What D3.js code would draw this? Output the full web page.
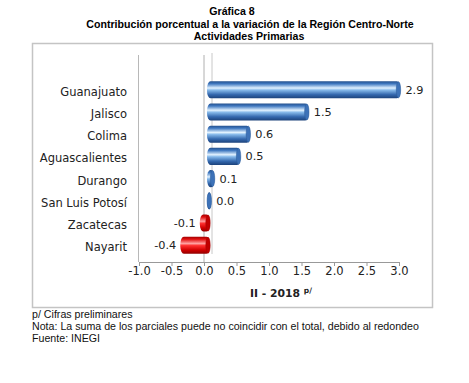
<!DOCTYPE html>
<html><head><meta charset="utf-8">
<script src="https://cdn.jsdelivr.net/npm/d3@7"></script>
<style>body{margin:0;background:#fff}svg{display:block}</style>
</head><body>
<script>
const categories = ["Guanajuato","Jalisco","Colima","Aguascalientes","Durango","San Luis Potosí","Zacatecas","Nayarit"];
const values = [2.93,1.52,0.62,0.47,0.07,0.02,-0.08,-0.38];
const valueLabels = ["2.9","1.5","0.6","0.5","0.1","0.0","-0.1","-0.4"];
const tickValues = [-1.0,-0.5,0.0,0.5,1.0,1.5,2.0,2.5,3.0];
const titleLines = ["Gráfica 8","Contribución porcentual a la variación de la Región Centro-Norte","Actividades Primarias"];
const footnotes = ["p/ Cifras preliminares","Nota: La suma de los parciales puede no coincidir con el total, debido al redondeo","Fuente: INEGI"];

const W=469,H=383;
const svg=d3.select("body").append("svg").attr("width",W).attr("height",H);
const defs=svg.append("defs");
function grad(id,stops){
  const g=defs.append("linearGradient").attr("id",id).attr("x1",0).attr("y1",0).attr("x2",0).attr("y2",1);
  stops.forEach(s=>g.append("stop").attr("offset",s[0]).attr("stop-color",s[1]));
}
grad("gBlue",[[0,"#24508c"],[0.15,"#3f78c0"],[0.4,"#e2f2ff"],[0.52,"#86b9ea"],[0.78,"#3468ae"],[1,"#1c427a"]]);
grad("gRed",[[0,"#a00000"],[0.15,"#e01010"],[0.4,"#ffa0a0"],[0.52,"#ff3030"],[0.78,"#d00000"],[1,"#900000"]]);

const tf="'Liberation Sans',Arial,sans-serif";
const vf="'DejaVu Sans',Verdana,sans-serif";
svg.append("text").attr("x",232).attr("y",15).attr("text-anchor","middle").attr("font-family",tf).attr("font-weight","bold").attr("font-size",10.6).text(titleLines[0]);
svg.append("text").attr("x",250).attr("y",27.5).attr("text-anchor","middle").attr("font-family",tf).attr("font-weight","bold").attr("font-size",10.6).text(titleLines[1]);
svg.append("text").attr("x",249).attr("y",40).attr("text-anchor","middle").attr("font-family",tf).attr("font-weight","bold").attr("font-size",10.6).text(titleLines[2]);

svg.append("rect").attr("x",32.5).attr("y",43.5).attr("width",400).attr("height",264).attr("fill","#fff").attr("stroke","#c4c4c4").attr("stroke-width",1.5);

const x=d3.scaleLinear().domain([-1,3]).range([139,399]);
const y=d3.scaleBand().domain(categories).range([79,256]).paddingInner(0.23).paddingOuter(0.1);

const plotTop=55, plotBottom=262;
svg.append("line").attr("x1",138.5).attr("x2",138.5).attr("y1",plotTop).attr("y2",plotBottom).attr("stroke","#b8b8b8");
svg.append("line").attr("x1",x(0)).attr("x2",x(0)).attr("y1",plotTop).attr("y2",plotBottom).attr("stroke","#b0b0b0");
svg.append("line").attr("x1",x(0)+8).attr("x2",x(0)+8).attr("y1",plotTop-2).attr("y2",plotBottom-8).attr("stroke","#c8c8c8");

const bw=y.bandwidth();
const g=svg.append("g");
categories.forEach((c,i)=>{
  const v=values[i];
  const x0=Math.min(x(0),x(v))+ (v<0?1:3);
  const x1=Math.max(x(0),x(v))+6;
  const yy=y(c);
  const fill=v<0?"url(#gRed)":"url(#gBlue)";
  g.append("rect").attr("x",x0).attr("y",yy).attr("width",Math.max(2,x1-x0)).attr("height",bw)
   .attr("rx",Math.min(3.5,(x1-x0)/2)).attr("ry",bw/2-1).attr("fill",fill);
  const capX = x1-2;
  g.append("ellipse").attr("cx",capX).attr("cy",yy+bw/2).attr("rx",2.2).attr("ry",bw/2-0.5)
   .attr("fill",v<0?"#c00000":"#3d72b8").attr("stroke",v<0?"#a00000":"#2a5a99").attr("stroke-width",0.5);
  const lx = v<0 ? Math.min(x(0),x(v))-3 : x1+5;
  svg.append("text").attr("x",lx).attr("y",yy+bw/2+4).attr("text-anchor",v<0?"end":"start")
    .attr("font-family",vf).attr("font-size",11.3).attr("fill","#222").text(valueLabels[i]);
  svg.append("text").attr("x",127).attr("y",yy+bw/2+6).attr("text-anchor","end")
    .attr("font-family",vf).attr("font-size",11.5).attr("fill","#222").text(c);
});

const ax=svg.append("g").attr("transform",`translate(0,${plotBottom})`)
  .call(d3.axisBottom(x).tickValues(tickValues).tickFormat(d3.format(".1f")).tickSize(4).tickSizeOuter(0));
ax.select(".domain").attr("stroke","#999");
ax.selectAll(".tick line").attr("stroke","#999");
ax.selectAll(".tick text").attr("font-family",vf).attr("font-size",11.5).attr("fill","#222").attr("dy","0.9em").attr("y",3)
  .text(d=>d3.format(".1f")(d).replace("−","-"));

const at=svg.append("text").attr("x",250).attr("y",297).attr("font-family",vf).attr("font-weight","bold").attr("font-size",10.8).attr("fill","#222");
at.append("tspan").text("II - 2018 ");
at.append("tspan").attr("font-size",7.5).attr("dy",-4).text("p/");

footnotes.forEach((t,i)=>{
  svg.append("text").attr("x",32).attr("y",318+i*12).attr("font-family",tf).attr("font-size",10.65).attr("fill","#111").text(t);
});
</script>
</body></html>
